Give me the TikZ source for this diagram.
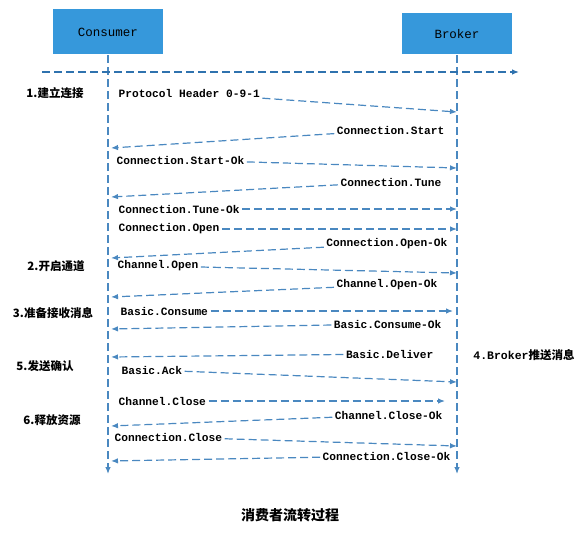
\documentclass[tikz,border=0pt]{standalone}
\usepackage{fontspec}
\setmonofont{Liberation Mono}
\newfontfamily\cjk{Noto Sans CJK SC}
\usetikzlibrary{arrows.meta, positioning}
\definecolor{cbox}{HTML}{3698DB}
\definecolor{cline}{HTML}{4A88C0}
\definecolor{caxis}{HTML}{2F72AE}
\tikzset{
  every picture/.style={x=1pt, y=-1pt, line width=1.2pt},
  party/.style={fill=cbox, minimum width=110pt, anchor=south, font=\ttfamily\fontsize{12.5}{14}\selectfont},
  dashline/.style={draw=cline, dash pattern=on 8pt off 4pt},
  msg/.style={dashline, -{Latex[length=7pt, width=5.5pt]}},
  lbl/.style={font=\ttfamily\bfseries\fontsize{11.2}{13}\selectfont, inner sep=2pt},
  phase/.style={font=\cjk\bfseries\fontsize{11.5}{13}\selectfont, inner sep=0pt},
}
\begin{document}
\begin{tikzpicture}
  \useasboundingbox (0,0) rectangle (587,538);
  % the two parties and their lifelines
  \node[party, minimum height=45pt] (consumer) at (108,55) {Consumer};
  \node[party, minimum height=41pt] (broker) at (457,55) {Broker};
  \coordinate (cend) at (108,474); \coordinate (bend) at (457,474);
  \draw[msg] (consumer) -- (cend); \draw[msg] (broker) -- (bend);
  \coordinate (ax0) at (42,72); \coordinate (ax1) at (519,72);
  \draw[msg, draw=caxis] (ax0) -- (ax1);
  % consumer -> broker
  \foreach \n/\x/\ty/\ex/\ey/\t in {1/116/93/457/112/{Protocol Header 0-9-1}, 2/114/160/457/168/{Connection.Start-Ok},
      3/116/209/457/209/{Connection.Tune-Ok}, 4/116/229/457/229/{Connection.Open}, 5/115/266/457/273/{Channel.Open},
      6/118/311/453/311/{Basic.Consume}, 7/119/370/457/382/{Basic.Ack}, 8/116/401/445/401/{Channel.Close},
      9/112/437/457/446/{Connection.Close}} {
    \node[lbl, anchor=west] (q\n) at (\x,\ty) {\t};
    \coordinate (qe\n) at (\ex,\ey);
    \draw[msg] (q\n) -- (qe\n);
  }
  % broker -> consumer
  \foreach \n/\x/\ty/\ey/\t in {1/447/130/148/{Connection.Start}, 2/444/182/197/{Connection.Tune},
      3/450/244/258/{Connection.Open-Ok}, 4/440/285/297/{Channel.Open-Ok}, 5/444/324/329/{Basic.Consume-Ok},
      6/436/354/357/{Basic.Deliver}, 7/445/415/426/{Channel.Close-Ok}, 8/453/456/461/{Connection.Close-Ok}} {
    \node[lbl, anchor=east] (r\n) at (\x,\ty) {\t};
    \coordinate (re\n) at (111,\ey);
    \draw[msg] (r\n) -- (re\n);
  }
  % phases
  \node[phase] (p1) at (55,93) {1.建立连接};
  \node[phase] (p2) at (56,266) {2.开启通道};
  \node[phase] (p3) at (53,313) {3.准备接收消息};
  \node[phase] (p4) at (524,355) {{\ttfamily 4.Broker}推送消息};
  \node[phase] (p5) at (45,366) {5.发送确认};
  \node[phase] (p6) at (52,420) {6.释放资源};
  \node[font=\cjk\bfseries\fontsize{14}{16}\selectfont] (caption) at (290,515) {消费者流转过程};
\end{tikzpicture}
\end{document}
